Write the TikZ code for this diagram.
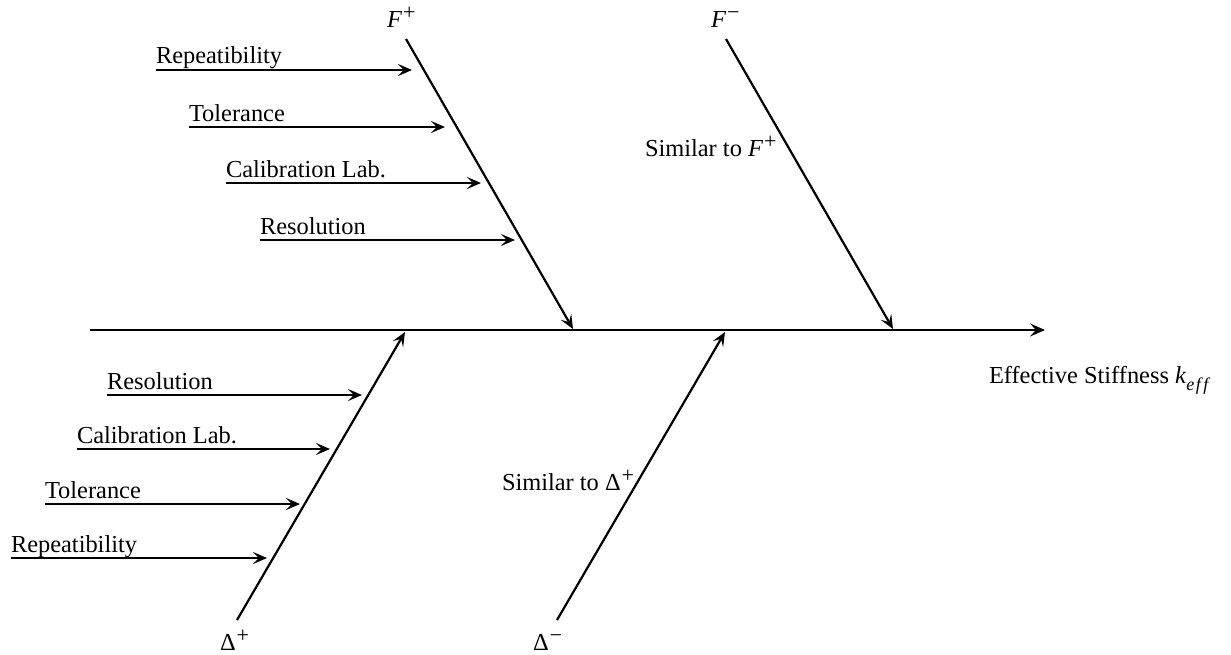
\documentclass[tikz,border=0pt]{standalone}
\usepackage{fontspec}
\setmainfont{Liberation Serif}
\usetikzlibrary{arrows.meta}
\newcommand{\mysup}[1]{\kern1pt\raisebox{0.3em}{\fontsize{22}{22}\selectfont #1}}
\newcommand{\mysub}[1]{\raisebox{-0.3em}{\fontsize{18}{18}\selectfont #1}}
\begin{document}
\begin{tikzpicture}[x=1pt,y=-1pt,
  every node/.style={inner sep=0pt, outer sep=0pt, font=\fontsize{24.4}{29}\selectfont},
  spine/.style={line width=2.5pt, -{Stealth[length=15pt,width=13pt,inset=6pt]}},
  bone/.style={line width=2.2pt, -{Stealth[length=14pt,width=12pt,inset=6pt]}},
  cause/.style={anchor=base west},
  lbl/.style={anchor=base west}]
\useasboundingbox (0,0) rectangle (1231,654);

% spine
\coordinate (s0) at (90,330);
\coordinate (s1) at (1045,330);
\draw[spine] (s0) -- (s1);
\node[lbl] (eff) at (989,383) {Effective Stiffness \textit{k}\mysub{\textit{e\kern1.5pt f\kern2.5pt f}}};

% main bones
\coordinate (fpt) at (406,39);  \coordinate (fpb) at (573,329);
\coordinate (fmt) at (726,39);  \coordinate (fmb) at (893,329);
\coordinate (dpb) at (237,620); \coordinate (dpt) at (405,332);
\coordinate (dmb) at (557,620); \coordinate (dmt) at (725,332);
\draw[bone] (fpt) -- (fpb);
\draw[bone] (fmt) -- (fmb);
\draw[bone] (dpb) -- (dpt);
\draw[bone] (dmb) -- (dmt);

\node[lbl] (fp) at (387,27) {\textit{F}\mysup{+}};
\node[lbl] (fm) at (711,27) {\textit{F}\mysup{−}};
\node[lbl] (simf) at (645,156) {Similar to \textit{F}\mysup{+}};
\node[lbl] (dp) at (220,650) {Δ\mysup{+}};
\node[lbl] (dm) at (533,650) {Δ\mysup{−}};
\node[lbl] (simd) at (502,490) {Similar to Δ\mysup{+}};

% F+ causes
\node[cause] (a1) at (156,63.5) {Repeatibility};
\coordinate (a1s) at (156,70);  \coordinate (a1e) at (412,70);
\draw[bone] (a1s) -- (a1e);
\node[cause] (a2) at (189,121) {Tolerance};
\coordinate (a2s) at (189,127); \coordinate (a2e) at (445,127);
\draw[bone] (a2s) -- (a2e);
\node[cause] (a3) at (226,177) {Calibration Lab.};
\coordinate (a3s) at (226,183); \coordinate (a3e) at (481,183);
\draw[bone] (a3s) -- (a3e);
\node[cause] (a4) at (260,234) {Resolution};
\coordinate (a4s) at (260,240); \coordinate (a4e) at (515,240);
\draw[bone] (a4s) -- (a4e);

% Delta+ causes
\node[cause] (b1) at (107,389) {Resolution};
\coordinate (b1s) at (107,395); \coordinate (b1e) at (362,395);
\draw[bone] (b1s) -- (b1e);
\node[cause] (b2) at (77,443) {Calibration Lab.};
\coordinate (b2s) at (77,449);  \coordinate (b2e) at (330,449);
\draw[bone] (b2s) -- (b2e);
\node[cause] (b3) at (45,498) {Tolerance};
\coordinate (b3s) at (45,504);  \coordinate (b3e) at (300,504);
\draw[bone] (b3s) -- (b3e);
\node[cause] (b4) at (11,552) {Repeatibility};
\coordinate (b4s) at (11,558);  \coordinate (b4e) at (267,558);
\draw[bone] (b4s) -- (b4e);
\end{tikzpicture}
\end{document}
